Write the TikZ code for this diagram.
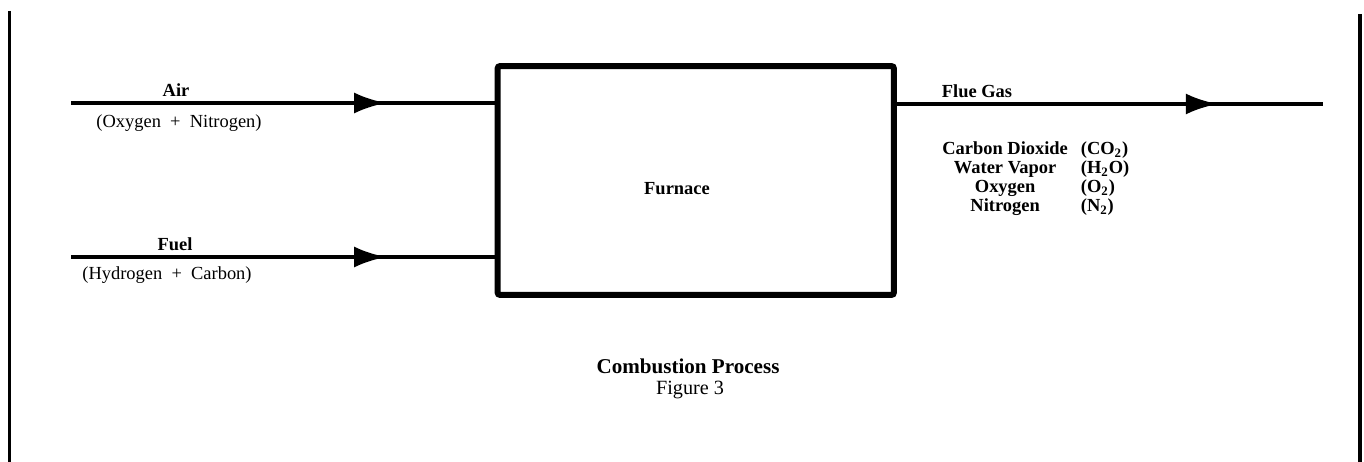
\documentclass[tikz,border=0pt]{standalone}
\usepackage{fontspec}
\setmainfont{Liberation Serif}
\usetikzlibrary{arrows.meta,decorations.markings}

\begin{document}
\begin{tikzpicture}[x=0.02cm, y=-0.02cm,
	flow/.style={line width=0.08cm},
	midarrow/.style={postaction={decorate}, decoration={markings, mark=at position #1 with {\arrow{Latex[length=0.64cm, width=0.42cm]}}}},
	lbl/.style={font=\fontsize{10.5}{12}\selectfont\bfseries, inner sep=0pt},
	sublbl/.style={font=\fontsize{10.5}{12}\selectfont, inner sep=0pt}]
			%%%%% START %%%%%
			
			\useasboundingbox (0, 0) rectangle (1364, 462);
			
			\draw[line width=0.08cm] (9.5, 11) -- (9.5, 462);
			\draw[line width=0.08cm] (1360, 14) -- (1360, 462);
			
			\node[draw, line width=0.12cm, minimum width=7.93cm, minimum height=4.58cm, rounded corners=1.5pt, inner sep=0pt] (furnace) at (695.75, 180.5) {};
			\node[lbl] (furnacelbl) at (677, 189) {Furnace};
			
			\coordinate (airin) at (71, 103);
			\coordinate (fuelin) at (71, 257);
			\coordinate (flueout) at (1323, 104);
			
			\draw[flow, midarrow=0.744] (airin) -- (airin -| furnace.west);
			\draw[flow, midarrow=0.744] (fuelin) -- (fuelin -| furnace.west);
			\draw[flow, midarrow=0.753] (flueout -| furnace.east) -- (flueout);
			
			\node[lbl] (air) at (176, 90) {Air};
			\node[sublbl] (airmix) at (179, 123) {(Oxygen~~+~~Nitrogen)};
			\node[lbl] (fuel) at (175, 244) {Fuel};
			\node[sublbl] (fuelmix) at (167, 275) {(Hydrogen~~+~~Carbon)};
			
			\node[lbl] (flue) at (977, 91) {Flue Gas};
			\node[lbl, anchor=west] (flueparts) at (942, 179) {\renewcommand{\arraystretch}{0.9}%
				\begin{tabular}{@{}c@{\hspace{0.26cm}}l@{}}
					Carbon Dioxide & (CO\textsubscript{2})\\
					Water Vapor & (H\textsubscript{2}O)\\
					Oxygen & (O\textsubscript{2})\\
					Nitrogen & (N\textsubscript{2})
				\end{tabular}};
			
			\node[font=\fontsize{12}{14}\selectfont\bfseries, inner sep=0pt, anchor=base] (title) at (688, 373) {Combustion Process};
			\node[font=\fontsize{11.5}{14}\selectfont, inner sep=0pt, anchor=base] (figno) at (690, 394) {Figure 3};
			
			%%%%% END %%%%%
\end{tikzpicture}
\end{document}
